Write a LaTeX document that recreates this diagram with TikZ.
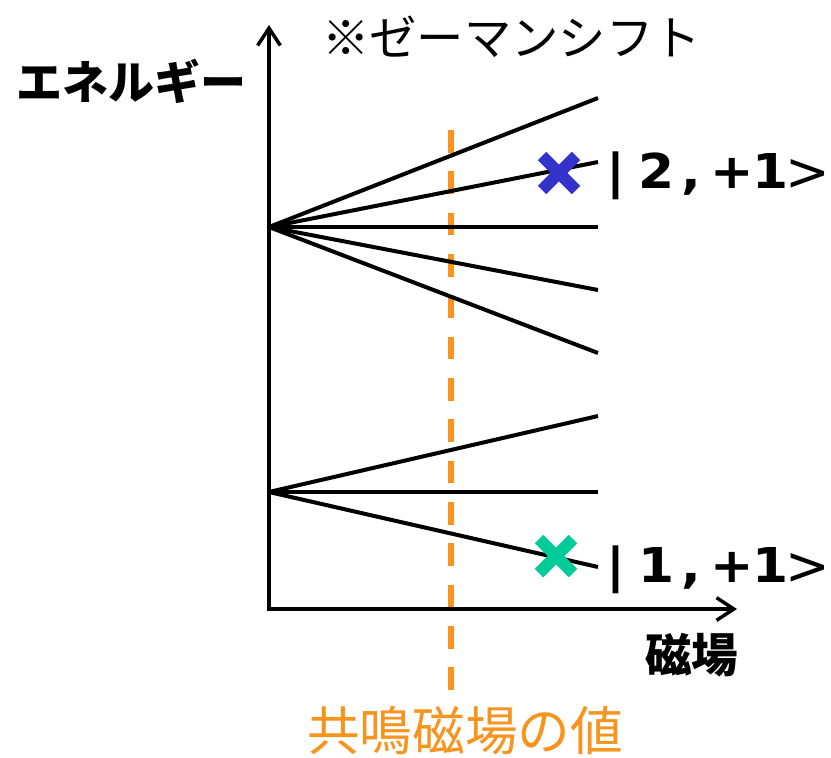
\documentclass[tikz,border=0pt]{standalone}
\usepackage{fontspec}
\setmainfont{Noto Sans CJK JP}
\newfontfamily\dvb[FakeStretch=1.08]{DejaVu Sans Bold}
\newfontfamily\dvr{DejaVu Sans}
\usetikzlibrary{arrows.meta,calc}
\definecolor{myorange}{RGB}{247,148,29}
\definecolor{myblue}{RGB}{51,51,204}
\definecolor{mygreen}{RGB}{0,204,153}
\newcommand{\pc}[1]{\makebox[0pt][l]{#1}}
\newcommand{\statetext}[1]{\pc{|}\hspace{24pt}\pc{#1}\hspace{32.25pt}\pc{,}\hspace{21.75pt}\pc{+}\hspace{31.5pt}\pc{1}\hspace{24.75pt}\pc{\raisebox{-1.5pt}{\dvr\fontsize{40pt}{42pt}\selectfont>}}}
\begin{document}
\begin{tikzpicture}[x=0.75pt,y=-0.75pt,
  axisline/.style={line width=3pt,-{Straight Barb[length=13pt,width=17pt,line width=2.6pt]}},
  level/.style={line width=3pt},
  xmark/.style={line width=9pt,line cap=butt},
  statelabel/.style={anchor=base west,inner sep=0pt,font=\dvb\fontsize{36pt}{40pt}\selectfont}]
\path[use as bounding box] (0,0) rectangle (831,757);
% coordinates
\coordinate (o) at (269,609);
\coordinate (ytop) at (269,25);
\coordinate (xend) at (737,609);
\coordinate (u) at (269,227);
\coordinate (l) at (269,492);
\coordinate (u1) at (598,98);
\coordinate (u2) at (598,162);
\coordinate (u3) at (598,227);
\coordinate (u4) at (598,290);
\coordinate (u5) at (598,353);
\coordinate (l1) at (598,416);
\coordinate (l2) at (598,492);
\coordinate (l3) at (598,567);
\coordinate (dtop) at (451,130);
\coordinate (dbot) at (451,690);
\coordinate (bx) at (559,173);
\coordinate (gx) at (556,556);
% dashed resonance line
\draw[myorange,line width=4.5pt,dash pattern=on 17pt off 14pt] (dtop) -- (dbot);
% axes
\draw[axisline] (o) -- (ytop);
\draw[axisline] ([xshift=-1.5pt]o) -- (xend);
% levels
\foreach \e in {u1,u2,u3,u4,u5} \draw[level] (u) -- (\e);
\foreach \e in {l1,l2,l3} \draw[level] (l) -- (\e);
% crosses
\draw[xmark,myblue] ($(bx)+(-17,-17)$) -- ($(bx)+(17,17)$);
\draw[xmark,myblue] ($(bx)+(-17,17)$) -- ($(bx)+(17,-17)$);
\draw[xmark,mygreen] ($(gx)+(-17,-17)$) -- ($(gx)+(17,17)$);
\draw[xmark,mygreen] ($(gx)+(-17,17)$) -- ($(gx)+(17,-17)$);
% labels
\node[statelabel] (s2) at (606,188) {\statetext{2}};
\node[statelabel] (s1) at (606,582) {\statetext{1}};
\node[anchor=west,inner sep=0pt,font=\bfseries\fontsize{34.5pt}{38pt}\selectfont] (en) at (16,81) {エネルギー};
\node[anchor=west,inner sep=0pt,font=\fontsize{35.5pt}{40pt}\selectfont] (title) at (322,37) {※ゼーマンシフト};
\node[anchor=west,inner sep=0pt,font=\bfseries\fontsize{35pt}{38pt}\selectfont] (b) at (645,655) {磁場};
\node[anchor=west,inner sep=0pt,myorange,font=\fontsize{39.5pt}{42pt}\selectfont] (res) at (307,731) {共鳴磁場の値};
\end{tikzpicture}
\end{document}
